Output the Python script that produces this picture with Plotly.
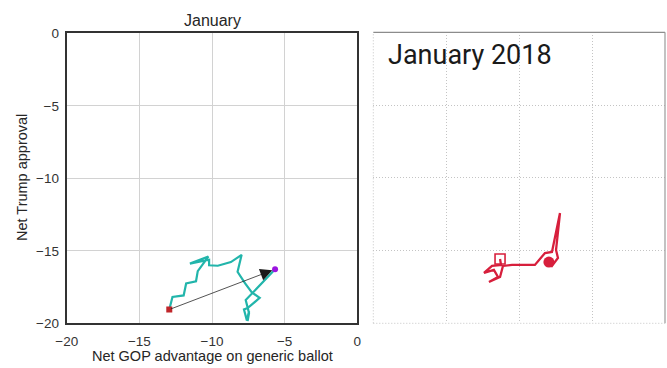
import plotly.graph_objects as go

# ---- data: left panel (teal path, January) ----
gop_x = [-12.94, -12.72, -11.95, -11.78, -11.10, -10.98, -10.25, -11.52, -10.20, -10.20,
         -9.60, -8.70, -7.96, -8.24, -7.72, -7.27, -6.72, -7.55, -7.80, -7.60,
         -7.45, -7.55, -7.45, -7.68, -6.40, -5.66]
trump_y = [-19.05, -18.18, -18.08, -17.25, -17.10, -16.40, -15.40, -15.88, -15.62, -16.00,
           -16.03, -15.78, -15.28, -16.45, -17.25, -17.85, -18.25, -18.95, -19.05, -19.80,
           -19.15, -19.85, -19.30, -18.40, -17.05, -16.27]

# ---- data: right panel (red path, January 2018) ----
red_x = [-11.31, -11.24, -11.86, -12.41, -11.73, -11.45, -12.07, -11.31, -11.11, -10.49,
         -8.92, -8.23, -7.75, -7.20, -7.47, -7.34, -7.75, -7.96]
red_y = [-15.58, -15.99, -16.06, -16.54, -16.33, -16.82, -17.16, -16.82, -16.06, -15.99,
         -15.99, -15.17, -15.10, -12.42, -14.96, -15.51, -16.06, -15.79]

axis_ticks = [-20, -15, -10, -5, 0]
axis_ticktext = ["\u221220", "\u221215", "\u221210", "\u22125", "0"]
title_left = "January"
title_right = "January 2018"
x_label = "Net GOP advantage on generic ballot"
y_label = "Net Trump approval"

W, H = 667, 368

def px_x(p):
    return p / W

def px_y(p):
    return 1 - p / H

FONT = "Liberation Sans, Arial, sans-serif"
fig = go.Figure()

# left panel traces
fig.add_trace(go.Scatter(x=gop_x, y=trump_y, mode="lines",
                         line=dict(color="#22b5ab", width=2.2),
                         xaxis="x", yaxis="y", showlegend=False, hoverinfo="skip"))
fig.add_trace(go.Scatter(x=[gop_x[0]], y=[trump_y[0]], mode="markers",
                         marker=dict(symbol="square", color="#c0262a", size=6),
                         xaxis="x", yaxis="y", showlegend=False))
fig.add_trace(go.Scatter(x=[gop_x[-1]], y=[trump_y[-1]], mode="markers",
                         marker=dict(symbol="circle", color="#9b14e0", size=6),
                         xaxis="x", yaxis="y", showlegend=False))

# right panel traces
fig.add_trace(go.Scatter(x=red_x, y=red_y, mode="lines",
                         line=dict(color="#d71f3c", width=2.3),
                         xaxis="x2", yaxis="y2", showlegend=False, hoverinfo="skip"))
fig.add_trace(go.Scatter(x=[red_x[0]], y=[red_y[0]], mode="markers",
                         marker=dict(symbol="square-open", color="#d71f3c", size=10,
                                     line=dict(width=1.6, color="#d71f3c")),
                         xaxis="x2", yaxis="y2", showlegend=False))
fig.add_trace(go.Scatter(x=[red_x[-1]], y=[red_y[-1]], mode="markers",
                         marker=dict(symbol="circle", color="#d71f3c", size=11),
                         xaxis="x2", yaxis="y2", showlegend=False))

left_dom = [px_x(66.7), px_x(357.3)]
right_dom = [px_x(373.3), px_x(665)]
ydom = [px_y(323.3), px_y(33.3)]
ydom2 = [px_y(323.3), px_y(32.3)]

DOT = "1px,2px"

fig.update_layout(
    width=W, height=H,
    margin=dict(l=0, r=0, t=0, b=0, autoexpand=False),
    paper_bgcolor="white", plot_bgcolor="white",
    font=dict(family=FONT, color="#333333", size=13),
    xaxis=dict(domain=left_dom, range=[-20, 0], tickvals=axis_ticks, ticktext=axis_ticktext,
               automargin=False,
               showgrid=True, gridcolor="#d2d2d2", gridwidth=1.3, zeroline=False,
               showline=True, mirror=True, linecolor="#333333", linewidth=2,
               ticks="outside", ticklen=4, tickcolor="rgba(0,0,0,0)",
               tickfont=dict(size=13.5, color="#333333"), anchor="y"),
    yaxis=dict(domain=ydom, range=[-20, 0], tickvals=axis_ticks, ticktext=axis_ticktext,
               automargin=False,
               showgrid=True, gridcolor="#d2d2d2", gridwidth=1.3, zeroline=False,
               showline=True, mirror=True, linecolor="#333333", linewidth=2,
               ticks="outside", ticklen=3, tickcolor="rgba(0,0,0,0)",
               tickfont=dict(size=13.5, color="#333333"), anchor="x"),
    xaxis2=dict(domain=right_dom, range=[-20, 0], tickvals=[-15, -10, -5], automargin=False,
                showgrid=True, gridcolor="#c4c4c4", gridwidth=1, griddash=DOT,
                zeroline=False, showline=False, showticklabels=False, anchor="y2"),
    yaxis2=dict(domain=ydom2, range=[-20, 0], tickvals=[-15, -10, -5], automargin=False,
                showgrid=True, gridcolor="#c4c4c4", gridwidth=1, griddash=DOT,
                zeroline=False, showline=False, showticklabels=False, anchor="x2"),
)

# right panel borders
x0, x1 = right_dom
y0, y1 = ydom2
fig.add_shape(type="line", xref="paper", yref="paper", x0=x0, x1=x1, y0=y1, y1=y1,
              line=dict(color="#8c8c8c", width=1.2))
fig.add_shape(type="line", xref="paper", yref="paper", x0=x1, x1=x1, y0=y0, y1=y1,
              line=dict(color="#9a9a9a", width=1.2))
fig.add_shape(type="line", xref="paper", yref="paper", x0=x0, x1=x0, y0=y0, y1=y1,
              line=dict(color="#c4c4c4", width=1, dash=DOT))
fig.add_shape(type="line", xref="paper", yref="paper", x0=x0, x1=x1, y0=y0, y1=y0,
              line=dict(color="#c4c4c4", width=1, dash=DOT))

# arrow from start to end in left panel
fig.add_annotation(x=gop_x[-1], y=trump_y[-1], ax=gop_x[0], ay=trump_y[0],
                   xref="x", yref="y", axref="x", ayref="y",
                   showarrow=True, arrowhead=2, arrowsize=3.2, arrowwidth=0.75,
                   arrowcolor="#1a1a1a", standoff=3, text="")

# titles and labels
fig.add_annotation(text=title_left, x=px_x(212), y=px_y(21), xref="paper", yref="paper",
                   showarrow=False, xanchor="center", yanchor="middle",
                   font=dict(size=16, color="#262626", family=FONT))
fig.add_annotation(text=x_label, x=px_x(212), y=px_y(356), xref="paper", yref="paper",
                   showarrow=False, xanchor="center", yanchor="middle",
                   font=dict(size=14.5, color="#262626", family=FONT))
fig.add_annotation(text=y_label, x=px_x(22), y=px_y(178), xref="paper", yref="paper",
                   showarrow=False, xanchor="center", yanchor="middle", textangle=-90,
                   font=dict(size=14.5, color="#262626", family=FONT))
fig.add_annotation(text=title_right, x=px_x(386), y=px_y(55), xref="paper", yref="paper",
                   showarrow=False, xanchor="left", yanchor="middle",
                   font=dict(size=27, color="#1a1a1a", family="Roboto, Arial, sans-serif"))

fig.write_html("out.html")
